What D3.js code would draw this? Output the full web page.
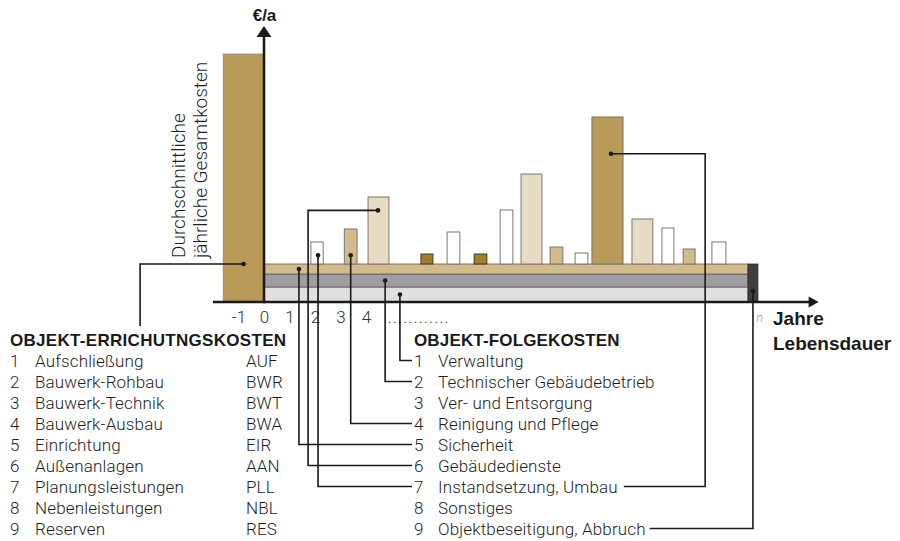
<!DOCTYPE html>
<html><head><meta charset="utf-8">
<script src="https://cdn.jsdelivr.net/npm/d3@7"></script>
<style>
body{margin:0;background:#fff;}
svg{display:block;}
text{font-family:Roboto,"Liberation Sans",Arial,sans-serif;}
.lt{font-family:Roboto,"Liberation Sans",Arial,sans-serif;font-weight:300;}
.bd{font-family:"Liberation Sans",Arial,sans-serif;font-weight:bold;}
</style></head><body>
<svg id="chart" width="900" height="541"></svg>
<script>
// ---------- DATA ----------
const tickYears = [-1, 0, 1, 2, 3, 4];
const tickLabels = ["-1", "0", "1", "2", "3", "4"];

// initial (construction) cost bar at year -1
const initialStart = -1.6, initialEnd = 0, initialValue = 248;

// follow-up cost bars (centre year, width in years, height above the bands, kind)
const barCenters = [2.08, 3.40, 4.49, 6.39, 7.43, 8.49, 9.51, 10.49, 11.47, 12.45, 13.47, 14.84, 15.84, 16.67, 17.84];
const barWidths  = [0.48, 0.50, 0.82, 0.47, 0.50, 0.50, 0.50, 0.82, 0.50, 0.50, 1.22, 0.82, 0.47, 0.47, 0.55];
const barValues  = [22, 35, 67, 10, 32, 10, 54, 90, 17, 11, 147, 45, 36, 15, 22];
const barKinds   = ["white","tan","beige","dark","white","dark","white","beige","tan","white","gold","beige","white","tan","white"];

// continuous bands across the lifespan (bottom to top)
const bandNames  = ["Verwaltung", "Technischer Gebäudebetrieb", "Sicherheit"];
const bandValues = [15, 13, 10];
const lifeStart = 0, lifeEnd = 18.98, endBarEnd = 19.37;

const errichtungTitle = "OBJEKT-ERRICHUTNGSKOSTEN";
const errichtungItems = ["Aufschließung","Bauwerk-Rohbau","Bauwerk-Technik","Bauwerk-Ausbau","Einrichtung","Außenanlagen","Planungsleistungen","Nebenleistungen","Reserven"];
const errichtungCodes = ["AUF","BWR","BWT","BWA","EIR","AAN","PLL","NBL","RES"];
const folgeTitle = "OBJEKT-FOLGEKOSTEN";
const folgeItems = ["Verwaltung","Technischer Gebäudebetrieb","Ver- und Entsorgung","Reinigung und Pflege","Sicherheit","Gebäudedienste","Instandsetzung, Umbau","Sonstiges","Objektbeseitigung, Abbruch"];

// ---------- STYLE ----------
const kindFill = {white:"#ffffff", tan:"#d3ba8b", beige:"#e7dcc3", dark:"#a67d24", gold:"#b99a56"};
const bandFill = ["#e0e0e2", "#9e9ea0", "#d3ba8b"];
const ink = "#1a1a1a", txt = "#1e1e1e";
const fs = 17;

const svg = d3.select("#chart");
const x = d3.scaleLinear().domain([0, 1]).range([264, 289.5]);
const y = d3.scaleLinear().domain([0, 270]).range([302, 32]);
const bandTop = d3.sum(bandValues);

// bands
let acc = 0;
const bandData = bandValues.map((v, i) => { const d = {y0: acc, y1: acc + v, i}; acc += v; return d; });
svg.append("g").selectAll("rect").data(bandData).join("rect")
  .attr("x", x(lifeStart)).attr("width", x(lifeEnd) - x(lifeStart))
  .attr("y", d => y(d.y1)).attr("height", d => y(d.y0) - y(d.y1))
  .attr("fill", d => bandFill[d.i]).attr("stroke", "#5a5a5a").attr("stroke-width", 0.8);
// end-of-life bar
svg.append("rect")
  .attr("x", x(lifeEnd)).attr("width", x(endBarEnd) - x(lifeEnd))
  .attr("y", y(bandTop)).attr("height", y(0) - y(bandTop))
  .attr("fill", "#3f3f41").attr("stroke", "#2a2a2a").attr("stroke-width", 0.8);

// initial bar
svg.append("rect")
  .attr("x", x(initialStart)).attr("width", x(initialEnd) - x(initialStart))
  .attr("y", y(initialValue)).attr("height", y(0) - y(initialValue))
  .attr("fill", kindFill.gold).attr("stroke", "#8a8a8a").attr("stroke-width", 0.8);

// follow-up bars
svg.append("g").selectAll("rect").data(barCenters).join("rect")
  .attr("x", (c, i) => x(c - barWidths[i] / 2))
  .attr("width", (c, i) => x(barWidths[i]) - x(0))
  .attr("y", (c, i) => y(bandTop + barValues[i]))
  .attr("height", (c, i) => y(bandTop) - y(bandTop + barValues[i]))
  .attr("fill", (c, i) => kindFill[barKinds[i]])
  .attr("stroke", (c, i) => barKinds[i] === "dark" ? "#3a3a3a" : "#777")
  .attr("stroke-width", 1);

// axes lines with arrows
svg.append("line").attr("x1", x(-2)).attr("x2", x(21.4)).attr("y1", y(0)).attr("y2", y(0))
  .attr("stroke", ink).attr("stroke-width", 2.6);
svg.append("line").attr("x1", x(0)).attr("x2", x(0)).attr("y1", y(0) + 1.3).attr("y2", y(268))
  .attr("stroke", ink).attr("stroke-width", 2.6);
svg.append("path").attr("fill", ink)
  .attr("d", `M${x(21.75)},${y(0)} L${x(21.75) - 10},${y(0) - 5.5} L${x(21.75) - 10},${y(0) + 5.5} Z`);
svg.append("path").attr("fill", ink)
  .attr("d", `M${x(0)},${y(276)} L${x(0) - 7.5},${y(276) + 11} L${x(0) + 7.5},${y(276) + 11} Z`);

// tick labels via d3 axis
const ax = svg.append("g").attr("transform", `translate(0,${y(0)})`)
  .call(d3.axisBottom(x).tickValues(tickYears).tickFormat((d, i) => tickLabels[i]).tickSize(0).tickPadding(9));
ax.select(".domain").remove();
ax.attr("font-family", null).attr("font-size", null);
ax.selectAll("text").attr("class", "lt").attr("font-size", 17).attr("fill", "#333");
svg.append("text").attr("class", "lt").attr("x", x(4.85)).attr("y", 323).attr("font-size", 17)
  .attr("letter-spacing", 1.1).attr("fill", "#333").text("............");
svg.append("text").attr("class", "lt").attr("x", x(19.3)).attr("y", 322).attr("font-size", 13).attr("font-style", "italic")
  .attr("fill", "#999").text("n");

// axis titles
svg.append("text").attr("class", "bd").attr("x", x(0) + 0.5).attr("y", 21).attr("text-anchor", "middle")
  .attr("font-size", 17).attr("fill", ink).text("€/a");
svg.append("text").attr("class", "bd").attr("x", 773).attr("y", 325).attr("font-size", 19).attr("fill", ink).text("Jahre");
svg.append("text").attr("class", "bd").attr("x", 773).attr("y", 350).attr("font-size", 19).attr("fill", ink).text("Lebensdauer");
const yl = svg.append("text").attr("class", "lt").attr("transform", "translate(185,258) rotate(-90)")
  .attr("font-size", 19).attr("fill", txt);
yl.append("tspan").attr("x", 0).attr("y", 0).text("Durchschnittliche");
yl.append("tspan").attr("x", 0).attr("y", 22).text("jährliche Gesamtkosten");

// legends
const rowY = i => 360.5 + 21 * i;
svg.append("text").attr("class", "bd").attr("x", 10).attr("y", 346).attr("font-size", 17).attr("letter-spacing", 0.3).attr("fill", ink).text(errichtungTitle);
svg.append("text").attr("class", "bd").attr("x", 414).attr("y", 345.5).attr("font-size", 17).attr("letter-spacing", 0.15).attr("fill", ink).text(folgeTitle);
const lg = svg.append("g").attr("font-size", fs).attr("fill", txt).attr("letter-spacing", 0.15);
errichtungItems.forEach((t, i) => {
  lg.append("text").attr("class", "lt").attr("x", 10).attr("y", rowY(i) + 6).text(i + 1);
  lg.append("text").attr("class", "lt").attr("x", 35).attr("y", rowY(i) + 6).text(t);
  lg.append("text").attr("class", "lt").attr("x", 246).attr("y", rowY(i) + 6).text(errichtungCodes[i]);
});
const folgeNodes = folgeItems.map((t, i) => {
  lg.append("text").attr("class", "lt").attr("x", 414).attr("y", rowY(i) + 6).text(i + 1);
  return lg.append("text").attr("class", "lt").attr("x", 438).attr("y", rowY(i) + 6).text(t);
});
const textEnd = i => 438 + folgeNodes[i].node().getComputedTextLength();

// connectors
const bx = i => x(barCenters[i]);
const by = (i, f) => y(bandTop + barValues[i] * f);
const connectors = [
  [[x(-0.8), y(bandTop)], [x(-4.86), y(bandTop)], [x(-4.86), 326]],
  [[x(1.37), y(33)], [x(1.37), rowY(4)], [412, rowY(4)]],
  [[bx(2) - 0.5, by(2, 0.8)], [x(1.73), by(2, 0.8)], [x(1.73), rowY(5)], [412, rowY(5)]],
  [[bx(0) + 1, by(0, 0.4)], [bx(0) + 1, rowY(6)], [412, rowY(6)]],
  [[bx(1), by(1, 0.25)], [bx(1), rowY(3)], [412, rowY(3)]],
  [[x(4.75), y(21.5)], [x(4.75), rowY(1)], [412, rowY(1)]],
  [[x(5.33), y(7.5)], [x(5.33), rowY(0)], [412, rowY(0)]],
  [[bx(10) + 3.5, by(10, 0.75)], [x(17.3), by(10, 0.75)], [x(17.3), rowY(6)], [textEnd(6) + 6, rowY(6)]],
  [[x((lifeEnd + endBarEnd) / 2), y(11)], [x((lifeEnd + endBarEnd) / 2), rowY(8)], [textEnd(8) + 4, rowY(8)]]
];
const line = d3.line();
const cg = svg.append("g");
connectors.forEach(p => {
  cg.append("path").attr("d", line(p)).attr("fill", "none").attr("stroke", ink).attr("stroke-width", 1.6);
  cg.append("circle").attr("cx", p[0][0]).attr("cy", p[0][1]).attr("r", 2.3).attr("fill", ink);
});
</script>
</body></html>
